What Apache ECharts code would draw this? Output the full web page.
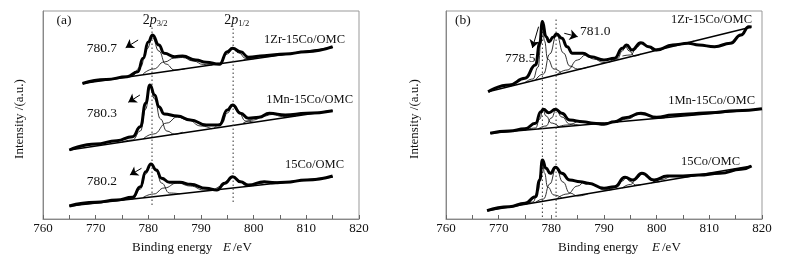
<!DOCTYPE html>
<html>
<head>
<meta charset="utf-8">
<script src="https://cdn.jsdelivr.net/npm/echarts@6/dist/echarts.min.js"></script>
<style>
html, body { margin: 0; padding: 0; background: #fff; }
#chart { width: 785px; height: 262px; }
</style>
</head>
<body>
<div id="chart"></div>
<script>
// binding energy axis, eV
const energyTicks = [760, 770, 780, 790, 800, 810, 820];

// ---- (a) spectra, [E, intensity a.u.] ----
const zrA = [[767.5,135.5],[772,139.5],[776,142.3],[778,147.3],[779,160.7],[780,177],[780.8,184],[782,174],[783,165.7],[785,162.3],[786.5,163],[789,159],[791,156.7],[793.5,154.7],[795,167.3],[796,170.7],[797.5,167.3],[799,161.7],[802,163.3],[806,165],[810,167.3],[815,172.3]];
const zrBaseA = [[767.5,135.5],[815,171.5]];
const zrPeaksA = [
  [[775,141.2],[777,143.5],[778.5,152],[779.7,170],[780.8,181],[782,168],[783.3,155],[785,149],[787,150.3]],
  [[779,145],[781,150],[783,157],[785,161],[786.5,161.5],[788.5,158],[790.5,154.5],[792,154.1]],
  [[792,154],[793.5,156],[795,165],[796,170],[797.2,166],[798.5,160.5],[800,160.2]],
  [[798,158.7],[800,161.5],[802,163.5],[804,163.8],[806,164.7]]
];

const mnA = [[765,69],[770,75],[774,78.3],[777,82.3],[778.5,92.3],[779.5,115.7],[780.3,134],[781.2,124],[782,112.3],[783,105],[785.5,103],[788,99],[791,94],[793.5,94],[795,109],[796,114],[797.5,105.7],[799,100.7],[801,101.7],[803,105.7],[806,104],[810,105.7],[815,108.3]];
const mnBaseA = [[765,69],[815,108.5]];
const mnPeaksA = [
  [[775,76.9],[777,79],[778.5,88],[779.5,110],[780.3,133],[781.2,120],[782.3,100],[783.5,88],[785,84.8],[786.5,86.8]],
  [[779,80],[781,85],[783.5,96],[785.5,102],[787.5,99],[790,93],[792,90.3]],
  [[792.5,90.7],[794,96],[795,106],[796,113],[797,108],[798.5,98],[800,96.7]],
  [[798,95.9],[800,99],[802,103],[803.5,104.5],[805.5,102.5],[808,103]]
];

const coA = [[765,13],[770,16.7],[774,19],[777,21.7],[778.5,32.3],[779.5,47.3],[780.5,55],[781.5,49],[782.5,40.7],[784,36.7],[786,36.7],[788,34.7],[791,30.7],[793,29],[794.5,35.7],[796,42.3],[797.5,37.3],[799,34],[802,37.3],[804,36.3],[806,36.7],[810,39],[815,43]];
const coBaseA = [[765,13],[815,42]];
const coPeaksA = [
  [[775,18.8],[777,20],[778.5,30],[779.5,45],[780.5,55],[781.5,48],[782.5,36],[784,26],[786,25.2]],
  [[779,21.5],[781,25],[783,31],[785.5,36],[788,33],[790.5,29],[792.5,29]],
  [[792.5,28.9],[794,33],[795,38.5],[796,42],[797,39],[798.5,33.5],[800,33.3]],
  [[799,32.7],[801,35.5],[803,37.5],[805,37],[807,37.4]]
];

// ---- (b) spectra ----
const zrB = [[768,127.3],[772,134],[775,140.7],[777,154],[777.8,175.7],[778.3,197.5],[779,182.3],[779.6,177.3],[780.3,181.7],[781,185],[782,180.7],[783,172.3],[784,165.7],[786,165.7],[787.5,162.3],[790,159],[792,160.7],[793.5,170.7],[794.3,174],[795.3,169],[797,176.3],[798.5,172.3],[800,169],[803,174],[806,175.7],[808,174],[811,172.3],[814,175.7],[816,184],[817.5,192.3],[818,192]];
const zrBaseB = [[768,127.3],[818,192]];
const zrPeaksB = [
  [[775,136.4],[776.5,140],[777.5,152],[778,175],[778.3,196],[778.7,178],[779.3,160],[780.5,150],[782,145.5]],
  [[777,139],[778.5,145],[779.7,165],[781,184],[782.3,166],[783.5,153],[785,150],[787,152]],
  [[781,144.2],[783,149],[785,159],[786.5,164],[788,160],[790,156.5],[791.5,157.8]],
  [[791,157.2],[792.5,160],[793.5,168],[794,173],[794.8,168],[795.8,163],[797,165]],
  [[793.5,163],[795,164],[796.3,172],[797.2,176],[798.3,172],[799.5,168.5],[801,170.2]],
  [[799,167.6],[801,171],[803,174.5],[805,175.5],[807,178]]
];

const mnB = [[768.4,85.7],[772,88],[775,90.3],[777,95.7],[778,107.3],[778.5,109.7],[779.5,106.3],[780.8,109.7],[782,105.7],[783.5,99],[786,97.3],[788,95.7],[790,94.7],[792,97.3],[794,101.3],[797,105.7],[800,101.7],[803,104],[806,105],[810,106.3],[815,108.3],[820,110.3]];
const mnBaseB = [[768.4,85.7],[820,110]];
const mnPeaksB = [
  [[775,88.8],[777,91],[777.8,100],[778.4,109],[779,103],[780,96],[781.5,92]],
  [[777.5,90],[779,93],[780,101],[780.9,109],[782,102],[783.5,95],[785.5,93.5]],
  [[781,91.6],[783,94],[785.5,97.5],[787.5,96.5],[790,95.9]],
  [[792.5,97],[794.5,100],[796.5,104.5],[798,104],[800,101],[801.5,101]]
];

const coB = [[767.8,8.3],[772,12.3],[775,15.7],[777,22.3],[777.8,39],[778.3,59],[779,50.7],[779.8,45.7],[780.8,51.7],[782,45.7],[783.5,39],[785.5,37.3],[787,35.7],[790,30.7],[792,32.3],[794,41.7],[795.5,39],[797.2,45.7],[799.5,39],[802,43],[805,43],[808,44],[812,45.7],[816,49.7],[818,53]];
const coBaseB = [[767.8,8.3],[818,53]];
const coPeaksB = [
  [[775,14.7],[776.5,17],[777.5,28],[778,45],[778.3,58],[778.7,46],[779.3,32],[780.5,24],[782,21]],
  [[777,16.5],[778.5,20],[779.7,35],[780.9,51],[782.2,37],[783.5,26],[785,23],[787,25.3]],
  [[781,20],[783,25],[785,33],[786.3,37],[788,34],[790,29],[791.5,29.4]],
  [[791,28.9],[792.5,32],[793.5,38],[794.2,41],[795,37.5],[796,34],[797,34.3]],
  [[793.5,31.1],[795,34.5],[796.3,41],[797.3,45.5],[798.5,41],[799.8,37],[801,37.8]],
  [[799,35.9],[801,39.5],[803,43],[805,43],[807,43.5]]
];

// peak position guides [E, from, to]
const guidesA = [[780.7, 14, 192], [796.1, 17, 192]];
const guidesB = [[778.3, 2, 199], [780.9, 2, 200.7]];

const serif = "'Liberation Serif', 'Times New Roman', serif";
const chart = echarts.init(document.getElementById('chart'));

function curve(data, idx, width, z) {
  return {
    type: 'line', xAxisIndex: idx, yAxisIndex: idx, data: data,
    smooth: 0.5, smoothMonotone: 'x', symbol: 'none', silent: true,
    lineStyle: { color: '#000', width: width }, z: z
  };
}
function straight(data, idx, width, type, color) {
  return {
    type: 'line', xAxisIndex: idx, yAxisIndex: idx, data: data,
    symbol: 'none', silent: true,
    lineStyle: { color: color || '#000', width: width, type: type || 'solid' }, z: 1
  };
}
function arrow(idx, from, to) {
  return {
    type: 'line', xAxisIndex: idx, yAxisIndex: idx, data: [], silent: true,
    markLine: {
      silent: true, symbol: ['none', 'arrow'], symbolSize: 8, label: { show: false },
      lineStyle: { color: '#000', width: 1, type: 'solid' },
      data: [[{ coord: from }, { coord: to }]]
    }
  };
}

let series = [];
[[zrA, zrBaseA, zrPeaksA], [mnA, mnBaseA, mnPeaksA], [coA, coBaseA, coPeaksA]].forEach(function (s) {
  s[2].forEach(function (p) { series.push(curve(p, 0, 0.8, 2)); });
  series.push(straight(s[1], 0, 1.5));
  series.push(curve(s[0], 0, 3, 3));
});
[[zrB, zrBaseB, zrPeaksB], [mnB, mnBaseB, mnPeaksB], [coB, coBaseB, coPeaksB]].forEach(function (s) {
  s[2].forEach(function (p) { series.push(curve(p, 1, 0.8, 2)); });
  series.push(straight(s[1], 1, 1.5));
  series.push(curve(s[0], 1, 3, 3));
});
guidesA.forEach(function (g) { series.push(straight([[g[0], g[1]], [g[0], g[2]]], 0, 1, [1.5, 2.5], '#333')); });
guidesB.forEach(function (g) { series.push(straight([[g[0], g[1]], [g[0], g[2]]], 1, 1, [1.5, 2.5], '#333')); });
series.push(arrow(0, [778.06, 179], [775.7, 171.3]));
series.push(arrow(0, [778.4, 124], [776.2, 116.7]));
series.push(arrow(0, [778.7, 50.7], [776.5, 44]));
series.push(arrow(1, [782.46, 185.7], [785.0, 182.3]));
series.push(arrow(1, [777.58, 192.3], [776.4, 171]));

function xAx(idx) {
  return {
    gridIndex: idx, type: 'value',
    min: energyTicks[0], max: energyTicks[energyTicks.length - 1], interval: 10,
    axisLine: { lineStyle: { color: '#888', width: 1 } },
    axisTick: { inside: true, length: 4, lineStyle: { color: '#666' } },
    minorTick: { show: true, splitNumber: 2, length: 4, lineStyle: { color: '#666' } },
    splitLine: { show: false },
    axisLabel: { color: '#111', fontFamily: serif, fontSize: 13, margin: 3 }
  };
}
function yAx(idx) {
  return {
    gridIndex: idx, type: 'value', min: 0, max: 208,
    axisLine: { show: true, lineStyle: { color: '#888' } },
    axisTick: { show: false }, axisLabel: { show: false }, splitLine: { show: false }
  };
}

function txt(x, y, s, size, align, italic) {
  return {
    type: 'text', x: x, y: y, silent: true,
    style: {
      text: s, fill: '#111', font: (italic ? 'italic ' : '') + size + 'px ' + serif,
      align: align || 'left', verticalAlign: 'middle'
    }
  };
}
function rot(x, y, s) {
  return {
    type: 'text', x: x, y: y, rotation: Math.PI / 2, silent: true,
    style: { text: s, fill: '#111', font: '13px ' + serif, align: 'center', verticalAlign: 'middle' }
  };
}

const graphics = [
  txt(56.5, 20, '(a)', 13.5), txt(455, 20, '(b)', 13.5),
  txt(142.7, 20, '2', 14), txt(149.7, 20, 'p', 14, 'left', true), txt(156.7, 24, '3/2', 8.5),
  txt(224.3, 20, '2', 14), txt(231.3, 20, 'p', 14, 'left', true), txt(238.3, 24, '1/2', 8.5),
  txt(345, 40, '1Zr-15Co/OMC', 12.5, 'right'),
  txt(353, 99.3, '1Mn-15Co/OMC', 12.5, 'right'),
  txt(344, 165, '15Co/OMC', 12.5, 'right'),
  txt(86.7, 48.3, '780.7', 13.5), txt(86.7, 113.3, '780.3', 13.5), txt(86.7, 181.7, '780.2', 13.5),
  txt(752, 20, '1Zr-15Co/OMC', 12.5, 'right'),
  txt(755, 100.7, '1Mn-15Co/OMC', 12.5, 'right'),
  txt(740, 161.7, '15Co/OMC', 12.5, 'right'),
  txt(580, 31.7, '781.0', 13.5), txt(505, 58.3, '778.5', 13.5),
  txt(132, 248, 'Binding energy', 13), txt(223, 248, 'E', 13, 'left', true), txt(233, 248, '/eV', 13),
  txt(558, 248, 'Binding energy', 13), txt(652, 248, 'E', 13, 'left', true), txt(662, 248, '/eV', 13),
  rot(20, 119, 'Intensity /(a.u.)'), rot(415, 119, 'Intensity /(a.u.)')
];

chart.setOption({
  animation: false,
  backgroundColor: '#fff',
  grid: [
    { left: 43, top: 11, width: 316, height: 208, show: true, borderColor: '#999', borderWidth: 1 },
    { left: 446, top: 11, width: 316, height: 208, show: true, borderColor: '#999', borderWidth: 1 }
  ],
  xAxis: [xAx(0), xAx(1)],
  yAxis: [yAx(0), yAx(1)],
  series: series,
  graphic: graphics
});
</script>
</body>
</html>
